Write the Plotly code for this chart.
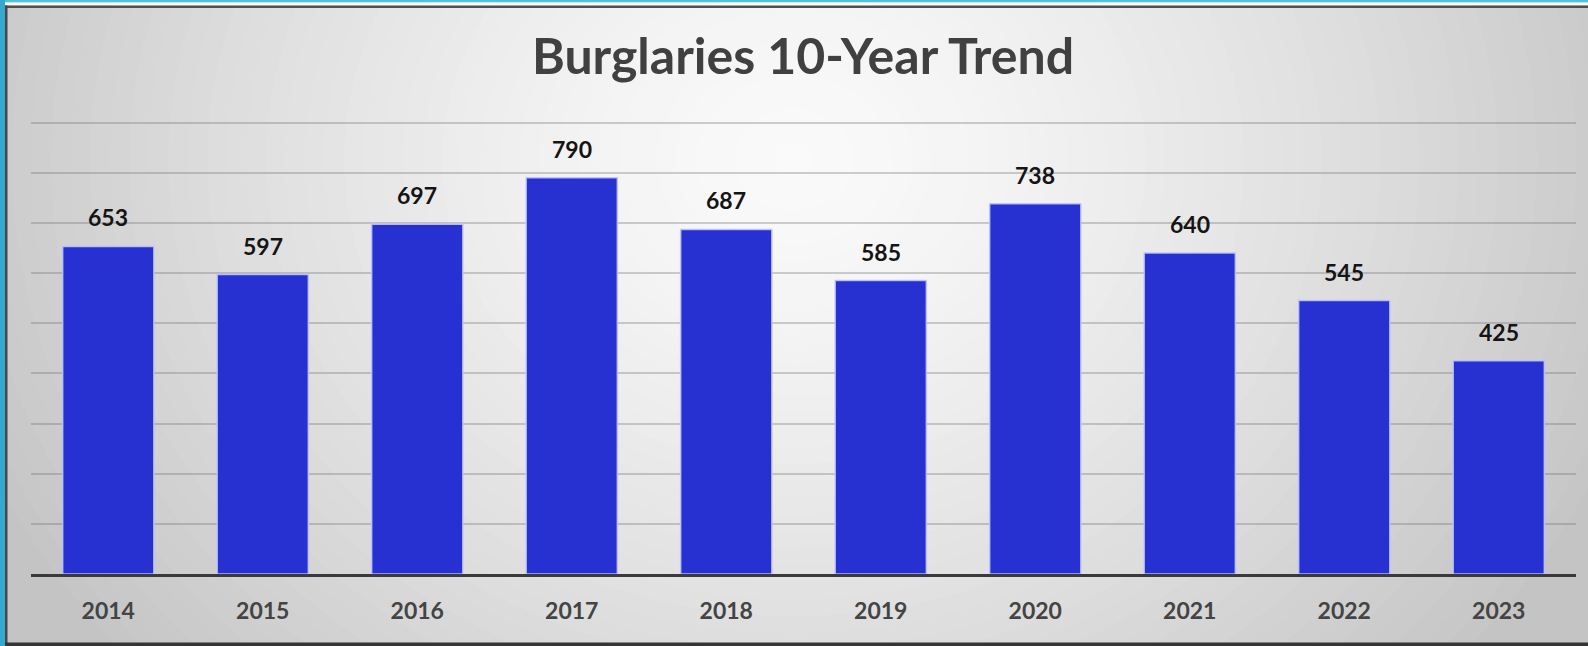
import plotly.graph_objects as go

years = ["2014", "2015", "2016", "2017", "2018", "2019", "2020", "2021", "2022", "2023"]
burglaries = [653, 597, 697, 790, 687, 585, 738, 640, 545, 425]
title_text = "Burglaries 10-Year Trend"

W, H = 1588, 646
ML, MR, MT, MB = 31, 12, 110, 72
PW, PH = W - ML - MR, H - MT - MB


def px(x):
    return (x - ML) / PW


def py(y):
    return (H - MB - y) / PH


shapes = []
# radial-ish background gradient
cx, cy = 794, 160
rx, ry = 880, 760
n = 45
for i in range(n):
    s = 1.0 - i / n
    g = int(round(250 - 52 * s ** 1.4))
    shapes.append(dict(type="circle", xref="paper", yref="paper", layer="below",
                       x0=px(cx - rx * s), x1=px(cx + rx * s),
                       y0=py(cy + ry * s), y1=py(cy - ry * s),
                       fillcolor=f"rgb({g},{g},{g})", line=dict(width=0)))


def rect(x0, y0, x1, y1, color):
    return dict(type="rect", xref="paper", yref="paper", layer="above",
                x0=px(x0), x1=px(x1), y0=py(y1), y1=py(y0),
                fillcolor=color, line=dict(width=0))


shapes += [
    rect(0, 0, W, 2.5, "#4cc4de"),
    rect(5, 2.5, W, 5.5, "#ffffff"),
    rect(5, 5.5, W, 8, "#505050"),
    rect(0, 0, 5, H, "#35a8cf"),
    rect(5, 5.5, 7.5, H, "#474747"),
    rect(5, H - 3.5, W, H, "#353535"),
]

fig = go.Figure()
fig.add_trace(go.Bar(
    x=years, y=burglaries,
    marker=dict(color="#2731d2", line=dict(color="rgba(190,196,255,0.9)", width=1.5)),
    hoverinfo="x+y",
))

annotations = [
    dict(x=i, y=v, xref="x", yref="y", text=f"<b>{v}</b>", showarrow=False,
         yanchor="bottom", yshift=13, font=dict(family="Lato", size=23, color="#141414"))
    for i, v in enumerate(burglaries)
]

fig.update_layout(
    width=W, height=H,
    margin=dict(l=ML, r=MR, t=MT, b=MB, autoexpand=False),
    paper_bgcolor="#c4c4c4",
    plot_bgcolor="rgba(0,0,0,0)",
    bargap=0.41,
    showlegend=False,
    title=dict(text=f"<b>{title_text}</b>", xref="container", yref="container",
               x=803 / W, y=1 - 56 / H, xanchor="center", yanchor="middle",
               font=dict(family="Lato", size=50, color="#404040")),
    xaxis=dict(type="category", range=[-0.5, len(years) - 0.5], autorange=False,
               automargin=False, showgrid=False, showline=True, linecolor="#3a3a3a",
               linewidth=3, ticks="", ticklabelstandoff=14,
               tickfont=dict(family="Lato", size=23, color="#444444"),
               tickprefix="<b>", ticksuffix="</b>"),
    yaxis=dict(range=[0, 925], autorange=False, automargin=False,
               tickvals=[100, 200, 300, 400, 500, 600, 700, 800, 900],
               showticklabels=False, zeroline=False,
               showgrid=True, gridcolor="rgba(110,110,110,0.32)", gridwidth=1.5,
               showline=False),
    shapes=shapes,
    annotations=annotations,
)

fig.write_html("out.html", config={"displayModeBar": False},
               post_script="document.body.style.margin='0';document.body.style.overflow='hidden';")
